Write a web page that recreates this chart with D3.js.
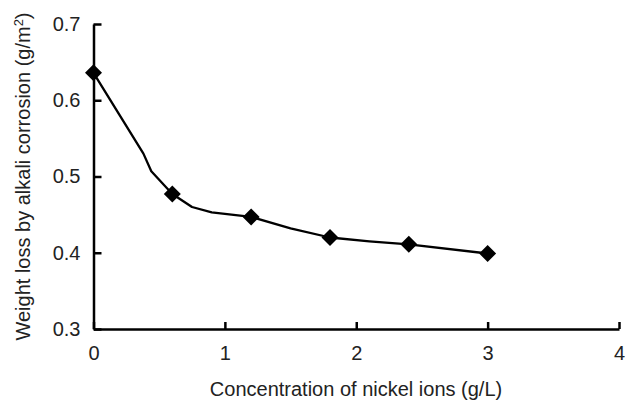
<!DOCTYPE html>
<meta charset="utf-8">
<html>
  <head>
    <style>
      body { margin: 0; background: #fff; }
      text { font-family: "Liberation Sans", Arial, sans-serif; fill: #222; }
      .axis path, .axis line { stroke: #000; stroke-width: 2.5px; }
      .axis text { font-size: 20px; }
      .title { font-size: 20px; }
    </style>
    <script src="https://cdn.jsdelivr.net/npm/d3@7"></script>
  </head>
  <body>
    <div id="chart"></div>
    <script>
      // measured points (markers)
      var conc = [0, 0.6, 1.2, 1.8, 2.4, 3.0];
      var loss = [0.636, 0.477, 0.447, 0.420, 0.411, 0.399];
      // the drawn curve (it has extra bends between markers)
      var curveX = [0, 0.38, 0.44, 0.6, 0.75, 0.9, 1.2, 1.5, 1.8, 2.1, 2.4, 3.0];
      var curveY = [0.636, 0.530, 0.507, 0.477, 0.460, 0.453, 0.447, 0.432, 0.420, 0.415, 0.411, 0.399];
      var xTicks = [0, 1, 2, 3, 4];
      var yTicks = [0.3, 0.4, 0.5, 0.6, 0.7];

      var width = 625, height = 401;
      var margin = { top: 24, right: 6, bottom: 72, left: 93.5 };

      var svg = d3.select("#chart").append("svg")
          .attr("width", width)
          .attr("height", height);

      var x = d3.scaleLinear().domain([0, 4]).range([margin.left, width - margin.right]);
      var y = d3.scaleLinear().domain([0.3, 0.7]).range([height - margin.bottom, margin.top]);

      // x axis, ticks point up into the plot
      var xAxis = svg.append("g")
          .attr("class", "axis")
          .attr("transform", "translate(0," + y(0.3) + ")")
          .call(d3.axisBottom(x).tickValues(xTicks).tickFormat(d3.format("d"))
            .tickSizeInner(-7).tickSizeOuter(0).tickPadding(17));
      xAxis.selectAll("text").attr("dy", "0.71em");

      // y axis, ticks point right
      var yAxis = svg.append("g")
          .attr("class", "axis")
          .attr("transform", "translate(" + x(0) + ",0)")
          .call(d3.axisLeft(y).tickValues(yTicks).tickFormat(d3.format(".1f"))
            .tickSizeInner(-8).tickSizeOuter(0).tickPadding(13));

      var line = d3.line()
          .x(function(d) { return x(d[0]); })
          .y(function(d) { return y(d[1]); });

      svg.append("path")
          .datum(d3.zip(curveX, curveY))
          .attr("d", line)
          .attr("fill", "none")
          .attr("stroke", "#000")
          .attr("stroke-width", 2.3)
          .attr("stroke-linejoin", "round");

      var r = 8.5;
      svg.selectAll(".marker")
          .data(d3.zip(conc, loss))
          .enter().append("path")
          .attr("class", "marker")
          .attr("d", "M0," + (-r) + "L" + r + ",0L0," + r + "L" + (-r) + ",0Z")
          .attr("transform", function(d) { return "translate(" + x(d[0]) + "," + y(d[1]) + ")"; })
          .attr("fill", "#000");

      svg.append("text")
          .attr("class", "title")
          .attr("x", 356)
          .attr("y", 396)
          .attr("text-anchor", "middle")
          .text("Concentration of nickel ions (g/L)");

      var yt = svg.append("text")
          .attr("class", "title")
          .attr("transform", "translate(30,176.5) rotate(-90)")
          .attr("text-anchor", "middle");
      yt.append("tspan").text("Weight loss by alkali corrosion (g/m");
      yt.append("tspan").attr("baseline-shift", "super").style("font-size", "13px").text("2");
      yt.append("tspan").text(")");
    </script>
  </body>
</html>
